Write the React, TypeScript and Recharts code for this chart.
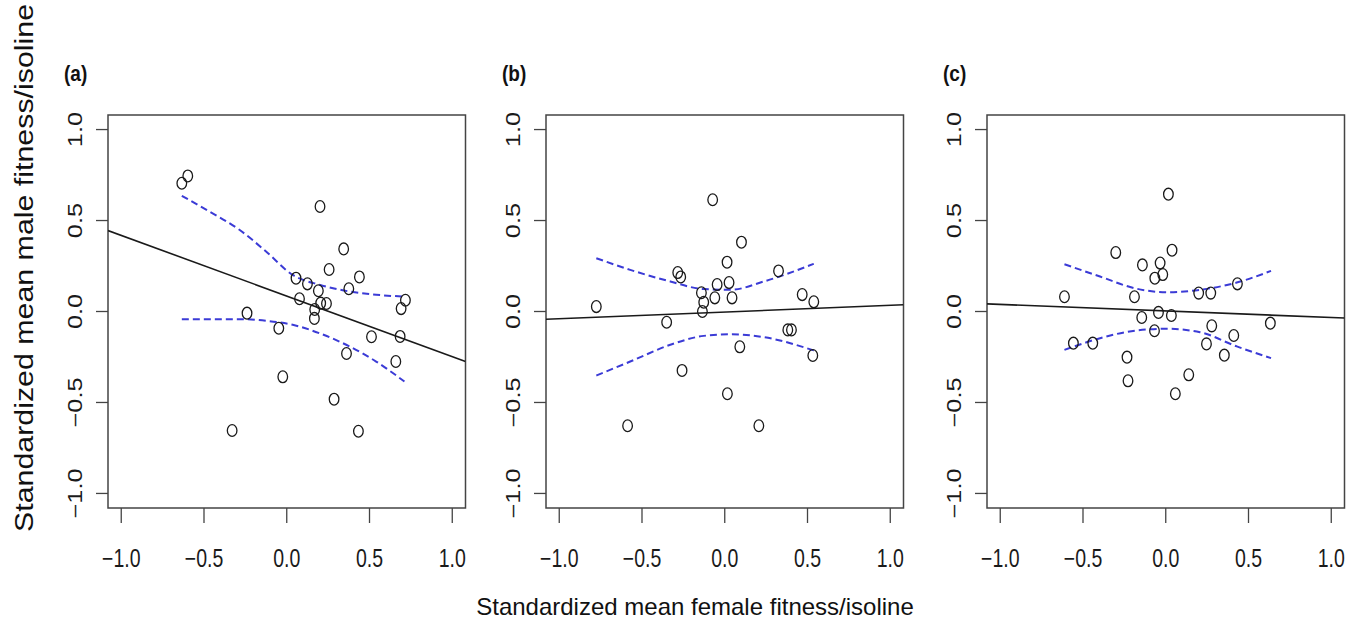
import React from "react";
import { ComposedChart, Scatter, Line, XAxis, YAxis, ReferenceArea } from "recharts";

const FONT = '"Liberation Sans", Arial, Helvetica, sans-serif';
const DOMAIN: [number, number] = [-1.08, 1.08];
const axisTicks = [-1, -0.5, 0, 0.5, 1];
const tickLabels = ["\u22121.0", "\u22120.5", "0.0", "0.5", "1.0"];
const panelLabels = ["(a)", "(b)", "(c)"];
const yTitle = "Standardized mean male fitness/isoline";
const xTitle = "Standardized mean female fitness/isoline";

// Panel (a)
const femaleA = [-0.634, -0.598, 0.201, 0.344, 0.256, 0.439, 0.056, 0.125, 0.191, 0.375, 0.717, 0.691, 0.077, 0.205, 0.24, 0.169, 0.167, -0.24, -0.048, 0.512, 0.685, 0.361, 0.659, -0.024, 0.286, -0.33, 0.433];
const maleA = [0.705, 0.745, 0.577, 0.344, 0.231, 0.19, 0.183, 0.152, 0.114, 0.125, 0.062, 0.016, 0.07, 0.046, 0.044, 0.011, -0.038, -0.009, -0.092, -0.139, -0.137, -0.231, -0.275, -0.359, -0.482, -0.654, -0.658];
const fitXA = [-1.08, 1.08];
const fitYA = [0.445, -0.275];
const bandXA = [-0.634, -0.467, -0.286, -0.125, 0.036, 0.197, 0.379, 0.54, 0.711];
const upperA = [0.636, 0.549, 0.449, 0.33, 0.201, 0.147, 0.11, 0.092, 0.082];
const lowerA = [-0.042, -0.042, -0.042, -0.051, -0.073, -0.119, -0.192, -0.275, -0.385];

// Panel (b)
const femaleB = [-0.073, 0.101, 0.014, 0.325, -0.284, -0.266, -0.046, 0.026, -0.141, -0.06, 0.044, -0.127, 0.468, 0.538, -0.776, -0.135, -0.351, 0.381, 0.403, 0.091, 0.532, -0.258, 0.016, -0.587, 0.206];
const maleB = [0.614, 0.381, 0.271, 0.223, 0.214, 0.19, 0.148, 0.159, 0.103, 0.075, 0.075, 0.051, 0.093, 0.053, 0.027, 0.0, -0.059, -0.101, -0.101, -0.194, -0.242, -0.324, -0.452, -0.628, -0.628];
const fitXB = [-1.08, 1.08];
const fitYB = [-0.043, 0.037];
const bandXB = [-0.776, -0.571, -0.329, -0.127, 0.034, 0.236, 0.538];
const upperB = [0.293, 0.229, 0.165, 0.123, 0.119, 0.165, 0.262];
const lowerB = [-0.352, -0.275, -0.183, -0.134, -0.125, -0.141, -0.214];

// Panel (c)
const femaleC = [0.016, -0.302, 0.038, -0.141, -0.034, -0.018, -0.066, 0.433, 0.199, 0.272, -0.612, -0.189, -0.044, 0.034, -0.145, 0.632, 0.278, -0.068, 0.411, -0.558, -0.441, 0.246, 0.354, -0.234, 0.139, -0.228, 0.058];
const maleC = [0.645, 0.324, 0.337, 0.256, 0.266, 0.203, 0.183, 0.152, 0.101, 0.101, 0.081, 0.081, -0.005, -0.022, -0.033, -0.064, -0.079, -0.106, -0.132, -0.174, -0.174, -0.178, -0.24, -0.251, -0.348, -0.381, -0.452];
const fitXC = [-1.08, 1.08];
const fitYC = [0.042, -0.036];
const bandXC = [-0.612, -0.397, -0.175, 0.006, 0.207, 0.429, 0.636];
const upperC = [0.26, 0.192, 0.125, 0.106, 0.119, 0.159, 0.223];
const lowerC = [-0.211, -0.147, -0.104, -0.095, -0.114, -0.192, -0.256];

const zip = (xs: number[], ys: number[]) => xs.map((x, i) => ({ x, y: ys[i] }));

const CHART_W = 470;
const CHART_H = 624;
const Y_AXIS_W = 108;
const X_AXIS_H = 116;
const TOP = 115;
const RIGHT = 4.5;

const fmt = (v: number) => {
  const i = axisTicks.indexOf(v);
  return i >= 0 ? tickLabels[i] : String(v);
};

const XTick = (props: any) => {
  const { x, payload } = props;
  return (
    <text
      transform={`translate(${x},567) scale(1,1.3)`}
      textAnchor="middle"
      fontSize={19.5}
      fontFamily={FONT}
      fill="#1a1a1a"
    >
      {fmt(payload.value)}
    </text>
  );
};

const YTick = (props: any) => {
  const { y, payload } = props;
  return (
    <text
      transform={`translate(81.7,${y}) rotate(-90) scale(1.3,1)`}
      textAnchor="middle"
      fontSize={19.5}
      fontFamily={FONT}
      fill="#1a1a1a"
    >
      {fmt(payload.value)}
    </text>
  );
};

const Ring = (props: any) => {
  const { cx, cy } = props;
  if (cx == null || cy == null) return null;
  return <ellipse cx={cx} cy={cy} rx={4.8} ry={5.9} fill="none" stroke="#1a1a1a" strokeWidth={1.3} />;
};

type PanelProps = {
  left: number;
  xs: number[];
  ys: number[];
  fitX: number[];
  fitY: number[];
  bandX: number[];
  upper: number[];
  lower: number[];
  label: string;
};

const Panel = ({ left, xs, ys, fitX, fitY, bandX, upper, lower, label }: PanelProps) => {
  const pts = zip(xs, ys);
  const fit = zip(fitX, fitY);
  const up = zip(bandX, upper);
  const lo = zip(bandX, lower);
  return (
    <div style={{ position: "absolute", left, top: 0, width: CHART_W, height: CHART_H }}>
      <ComposedChart
        width={CHART_W}
        height={CHART_H}
        margin={{ top: TOP, right: RIGHT, bottom: 0, left: 0 }}
      >
        <XAxis
          dataKey="x"
          type="number"
          domain={DOMAIN}
          ticks={axisTicks}
          interval={0}
          allowDataOverflow
          height={X_AXIS_H}
          tickSize={15}
          axisLine={false}
          tickLine={{ stroke: "#444", strokeWidth: 1.3 }}
          tick={<XTick />}
        />
        <YAxis
          dataKey="y"
          type="number"
          domain={DOMAIN}
          ticks={axisTicks}
          interval={0}
          allowDataOverflow
          width={Y_AXIS_W}
          tickSize={12}
          axisLine={false}
          tickLine={{ stroke: "#444", strokeWidth: 1.3 }}
          tick={<YTick />}
        />
        <ReferenceArea
          x1={DOMAIN[0]}
          x2={DOMAIN[1]}
          y1={DOMAIN[0]}
          y2={DOMAIN[1]}
          fill="none"
          fillOpacity={0}
          stroke="#444"
          strokeWidth={1.5}
        />
        <Line data={up} dataKey="y" type="monotone" stroke="#3b3bd6" strokeWidth={2} strokeDasharray="7 4" dot={false} isAnimationActive={false} />
        <Line data={lo} dataKey="y" type="monotone" stroke="#3b3bd6" strokeWidth={2} strokeDasharray="7 4" dot={false} isAnimationActive={false} />
        <Line data={fit} dataKey="y" type="linear" stroke="#1a1a1a" strokeWidth={1.6} dot={false} isAnimationActive={false} />
        <Scatter data={pts} dataKey="y" shape={<Ring />} isAnimationActive={false} />
        <text
          transform={`translate(${Y_AXIS_W - 44},81) scale(1,1.15)`}
          fontSize={19}
          fontWeight="bold"
          fontFamily={FONT}
          fill="#111"
        >
          {label}
        </text>
      </ComposedChart>
    </div>
  );
}

export default function App() {
  return (
    <div style={{ position: "absolute", left: 0, top: 0, width: 1358, height: 624, background: "#fff", overflow: "hidden" }}>
      <Panel left={0} xs={femaleA} ys={maleA} fitX={fitXA} fitY={fitYA} bandX={bandXA} upper={upperA} lower={lowerA} label={panelLabels[0]} />
      <Panel left={438} xs={femaleB} ys={maleB} fitX={fitXB} fitY={fitYB} bandX={bandXB} upper={upperB} lower={lowerB} label={panelLabels[1]} />
      <Panel left={879} xs={femaleC} ys={maleC} fitX={fitXC} fitY={fitYC} bandX={bandXC} upper={upperC} lower={lowerC} label={panelLabels[2]} />
      <svg
        width={1358}
        height={624}
        style={{ position: "absolute", left: 0, top: 0, pointerEvents: "none" }}
      >
        <text
          transform="translate(33,268) rotate(-90) scale(1.215,1)"
          textAnchor="middle"
          fontSize={25}
          fontFamily={FONT}
          fill="#111"
        >
          {yTitle}
        </text>
        <text x={695} y={615} textAnchor="middle" fontSize={24} fontFamily={FONT} fill="#111">
          {xTitle}
        </text>
      </svg>
    </div>
  );
}
